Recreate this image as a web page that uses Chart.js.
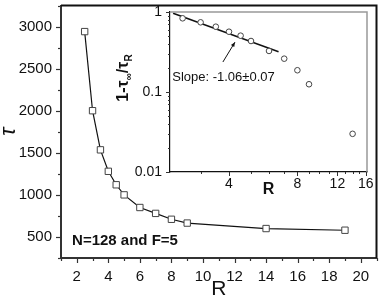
<!DOCTYPE html>
<html>
<head>
<meta charset="utf-8">
<script src="https://cdn.jsdelivr.net/npm/chart.js@4.4.1/dist/chart.umd.min.js"></script>
<style>
  html, body { margin: 0; padding: 0; background: #fff; }
  #wrap { position: relative; width: 382px; height: 300px; }
  #mainChart { position: absolute; left: 0; top: 0; }
  #insetChart { position: absolute; left: 100px; top: 0; }
</style>
</head>
<body>
<div id="wrap">
  <canvas id="mainChart" width="382" height="300"></canvas>
  <canvas id="insetChart" width="282" height="200"></canvas>
</div>
<script>
// main panel: tau against R
const mainR = [2.5, 3, 3.5, 4, 4.5, 5, 6, 7, 8, 9, 14, 19];
const mainTau = [2940, 2000, 1535, 1280, 1120, 1000, 850, 780, 710, 665, 600, 580];
const mainXTicks = [2, 4, 6, 8, 10, 12, 14, 16, 18, 20];
const mainYTicks = [500, 1000, 1500, 2000, 2500, 3000];

// inset: 1 - tau_inf / tau_R, log-log
const insetR = [2.5, 3, 3.5, 4, 4.5, 5, 6, 7, 8, 9, 14];
const insetVal = [0.834, 0.743, 0.655, 0.567, 0.506, 0.434, 0.326, 0.261, 0.187, 0.125, 0.030];
const fitR = [2.27, 6.61];
const fitVal = [0.963, 0.319];
const insetXTicks = [4, 8, 12, 16];
const insetYTicks = [0.01, 0.1, 1];

const FONT = "'Liberation Sans', Arial, Helvetica, sans-serif";

// fixed axis size, no extra padding for edge labels
function fixSize(prop, px) {
    return function(scale) {
        scale[prop] = px;
        scale.paddingTop = 0;
        scale.paddingBottom = 0;
        scale.paddingLeft = 0;
        scale.paddingRight = 0;
    };
}

// draws major / minor tick marks outside the axes
const tickMarks = {
    id: 'tickMarks',
    afterDraw(chart, args, opts) {
        const ctx = chart.ctx;
        ctx.save();
        ctx.strokeStyle = opts.color;
        ctx.lineWidth = opts.width;
        Object.values(chart.scales).forEach(scale => {
            scale.ticks.forEach(t => {
                const p = Math.round(scale.getPixelForValue(t.value)) + 0.5;
                const len = t.label === '' ? opts.minor : opts.major;
                ctx.beginPath();
                if (scale.axis === 'x') {
                    ctx.moveTo(p, scale.top);
                    ctx.lineTo(p, scale.top + len);
                } else {
                    ctx.moveTo(scale.right, p);
                    ctx.lineTo(scale.right - len, p);
                }
                ctx.stroke();
            });
        });
        ctx.restore();
    }
};

// top and right edges of the plot box
const frame = {
    id: 'frame',
    afterDraw(chart, args, opts) {
        const {ctx, chartArea: a} = chart;
        ctx.save();
        ctx.strokeStyle = opts.color;
        ctx.lineWidth = opts.width;
        ctx.beginPath();
        ctx.moveTo(a.left, a.top);
        ctx.lineTo(a.right, a.top);
        ctx.lineTo(a.right, a.bottom);
        ctx.stroke();
        ctx.restore();
    }
};

const mainNote = {
    id: 'mainNote',
    afterDraw(chart) {
        const {ctx, scales} = chart;
        ctx.save();
        ctx.fillStyle = '#111';
        ctx.font = 'bold 15px ' + FONT;
        ctx.textAlign = 'left';
        ctx.textBaseline = 'middle';
        ctx.fillText('N=128 and F=5', scales.x.getPixelForValue(1.7), scales.y.getPixelForValue(450));
        ctx.restore();
    }
};

const insetNotes = {
    id: 'insetNotes',
    afterDraw(chart) {
        const {ctx, scales} = chart;
        const x = scales.x, y = scales.y;
        ctx.save();
        // slope text
        ctx.fillStyle = '#111';
        ctx.font = '13px ' + FONT;
        ctx.textBaseline = 'middle';
        ctx.textAlign = 'left';
        ctx.fillText('Slope: -1.06\u00b10.07', x.getPixelForValue(2.25), y.getPixelForValue(0.154));
        // arrow
        const x0 = x.getPixelForValue(3.76), y0 = y.getPixelForValue(0.237);
        const x1 = x.getPixelForValue(4.25), y1 = y.getPixelForValue(0.42);
        ctx.strokeStyle = '#111';
        ctx.lineWidth = 1;
        ctx.beginPath();
        ctx.moveTo(x0, y0);
        ctx.lineTo(x1, y1);
        ctx.stroke();
        const ang = Math.atan2(y1 - y0, x1 - x0);
        ctx.beginPath();
        ctx.moveTo(x1, y1);
        ctx.lineTo(x1 - 5 * Math.cos(ang - 0.4), y1 - 5 * Math.sin(ang - 0.4));
        ctx.lineTo(x1 - 5 * Math.cos(ang + 0.4), y1 - 5 * Math.sin(ang + 0.4));
        ctx.closePath();
        ctx.fill();
        ctx.restore();

        // y title 1-τ∞/τR, rotated with subscripts
        const runs = [
            {t: '1-\u03c4', s: 16, dy: 0},
            {t: '\u221e', s: 10, dy: 4},
            {t: '/\u03c4', s: 16, dy: 0},
            {t: 'R', s: 10, dy: 4}
        ];
        ctx.save();
        let total = 0;
        runs.forEach(r => {
            ctx.font = 'bold ' + r.s + 'px ' + FONT;
            r.w = ctx.measureText(r.t).width;
            total += r.w;
        });
        // squeeze along the text if the fallback glyphs run long
        const k = Math.min(1, 60 / total);
        ctx.fillStyle = '#111';
        ctx.textAlign = 'left';
        ctx.textBaseline = 'alphabetic';
        ctx.setTransform(0, -k, 1, 0, 28, 78 + total * k / 2);
        let cx = 0;
        runs.forEach(r => {
            ctx.font = 'bold ' + r.s + 'px ' + FONT;
            ctx.fillText(r.t, cx, r.dy);
            cx += r.w;
        });
        ctx.restore();
    }
};

new Chart(document.getElementById('mainChart'), {
    type: 'line',
    data: {
        datasets: [{
            data: mainR.map((r, i) => ({x: r, y: mainTau[i]})),
            borderColor: '#111',
            borderWidth: 1.2,
            pointStyle: 'rect',
            pointRadius: 4.5,
            pointBorderColor: '#444',
            pointBackgroundColor: '#fff',
            pointBorderWidth: 1,
            tension: 0
        }]
    },
    plugins: [tickMarks, frame, mainNote],
    options: {
        responsive: false,
        animation: false,
        devicePixelRatio: 1,
        layout: {padding: {top: 1, right: 2, left: 0, bottom: 0}},
        plugins: {
            legend: {display: false},
            tooltip: {enabled: false},
            tickMarks: {color: '#333', width: 1.2, major: 5, minor: 3},
            frame: {color: '#111', width: 2}
        },
        scales: {
            x: {
                type: 'linear',
                min: 1,
                max: 21,
                afterBuildTicks(scale) {
                    const t = [];
                    for (let v = 1; v <= 21; v++) t.push({value: v});
                    scale.ticks = t;
                },
                afterFit: fixSize('height', 42),
                grid: {display: false, drawTicks: false},
                border: {color: '#333', width: 2},
                ticks: {
                    autoSkip: false,
                    maxRotation: 0,
                    padding: 10,
                    color: '#111',
                    font: {family: FONT, size: 15},
                    callback: v => mainXTicks.includes(v) ? String(v) : ''
                },
                title: {
                    display: true,
                    text: 'R',
                    color: '#111',
                    font: {family: FONT, size: 21, lineHeight: 1},
                    padding: {top: 0, bottom: 0}
                }
            },
            y: {
                type: 'linear',
                min: 250,
                max: 3250,
                afterBuildTicks(scale) {
                    const t = [];
                    for (let v = 250; v <= 3250; v += 250) t.push({value: v});
                    scale.ticks = t;
                },
                afterFit: fixSize('width', 61),
                grid: {display: false, drawTicks: false},
                border: {color: '#333', width: 2},
                ticks: {
                    autoSkip: false,
                    padding: 9,
                    color: '#111',
                    font: {family: FONT, size: 15},
                    callback: v => mainYTicks.includes(v) ? String(v) : ''
                },
                title: {
                    display: true,
                    text: '\u03c4',
                    color: '#111',
                    font: {family: FONT, size: 22, style: 'italic', lineHeight: 1},
                    padding: {top: -2, bottom: 0}
                }
            }
        }
    }
});

new Chart(document.getElementById('insetChart'), {
    type: 'scatter',
    data: {
        datasets: [{
            data: insetR.map((r, i) => ({x: r, y: insetVal[i]})),
            showLine: false,
            pointStyle: 'circle',
            pointRadius: 2.8,
            pointBorderColor: '#444',
            pointBackgroundColor: '#fff',
            pointBorderWidth: 1
        }, {
            data: fitR.map((r, i) => ({x: r, y: fitVal[i]})),
            showLine: true,
            borderColor: '#111',
            borderWidth: 1.5,
            pointRadius: 0
        }]
    },
    plugins: [tickMarks, frame, insetNotes],
    options: {
        responsive: false,
        animation: false,
        devicePixelRatio: 1,
        layout: {padding: {top: 12, right: 15, left: 0, bottom: 0}},
        plugins: {
            legend: {display: false},
            tooltip: {enabled: false},
            tickMarks: {color: '#333', width: 1, major: 4, minor: 2},
            frame: {color: '#999', width: 1.5}
        },
        scales: {
            x: {
                type: 'logarithmic',
                min: 2.2,
                max: 16.2,
                afterBuildTicks(scale) {
                    const t = [];
                    for (let v = 3; v <= 16; v++) t.push({value: v});
                    scale.ticks = t;
                },
                afterFit: fixSize('height', 28),
                grid: {display: false, drawTicks: false},
                border: {color: '#111', width: 1.2},
                ticks: {
                    autoSkip: false,
                    maxRotation: 0,
                    padding: 4,
                    color: '#111',
                    font: {family: FONT, size: 14},
                    callback: v => insetXTicks.includes(v) ? String(v) : ''
                },
                title: {
                    display: true,
                    text: 'R',
                    color: '#111',
                    font: {family: FONT, size: 16, weight: 'bold', lineHeight: 1},
                    padding: {top: 0, bottom: 2}
                }
            },
            y: {
                type: 'logarithmic',
                min: 0.01,
                max: 1,
                afterBuildTicks(scale) {
                    const t = [];
                    [0.01, 0.1].forEach(d => {
                        for (let k = 1; k < 10; k++) t.push({value: +(k * d).toFixed(3)});
                    });
                    t.push({value: 1});
                    scale.ticks = t;
                },
                afterFit: fixSize('width', 70),
                grid: {display: false, drawTicks: false},
                border: {color: '#111', width: 1.2},
                ticks: {
                    autoSkip: false,
                    padding: 8,
                    color: '#111',
                    font: {family: FONT, size: 14},
                    callback: v => insetYTicks.includes(v) ? String(v) : ''
                }
            }
        }
    }
});
</script>
</body>
</html>
